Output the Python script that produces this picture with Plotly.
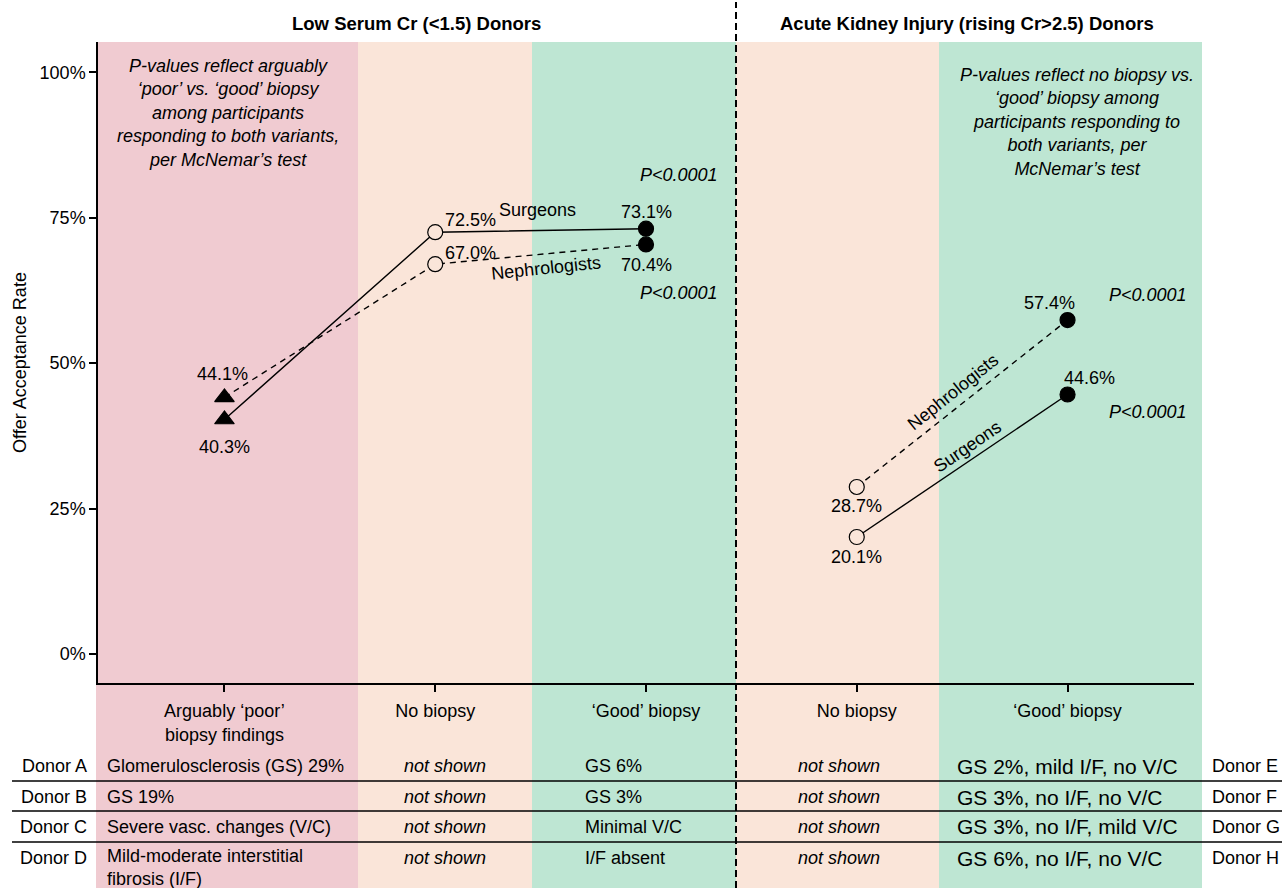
import plotly.graph_objects as go

# ---- data -------------------------------------------------------------
x_pos = [1, 2, 3, 4, 5]
tick_labels = [
    "Arguably ‘poor’<br>biopsy findings",
    "No biopsy",
    "‘Good’ biopsy",
    "No biopsy",
    "‘Good’ biopsy",
]
y_ticks = [0, 25, 50, 75, 100]

# Offer acceptance rate (%), low serum Cr donors: poor / no biopsy / good
surg_low = [40.3, 72.5, 73.1]
neph_low = [44.1, 67.0, 70.4]
# AKI donors: no biopsy / good biopsy
surg_aki = [20.1, 44.6]
neph_aki = [28.7, 57.4]

p_values = ["P<0.0001", "P<0.0001", "P<0.0001", "P<0.0001"]

donors_left = ["Donor A", "Donor B", "Donor C", "Donor D"]
poor_findings = [
    "Glomerulosclerosis (GS) 29%",
    "GS 19%",
    "Severe vasc. changes (V/C)",
    "Mild-moderate interstitial<br>fibrosis (I/F)",
]
good_low = ["GS 6%", "GS 3%", "Minimal V/C", "I/F absent"]
good_aki = [
    "GS 2%, mild I/F, no V/C",
    "GS 3%, no I/F, no V/C",
    "GS 3%, no I/F, mild V/C",
    "GS 6%, no I/F, no V/C",
]
donors_right = ["Donor E", "Donor F", "Donor G", "Donor H"]

# ---- styling ----------------------------------------------------------
FONT = "Liberation Sans, Arial, Helvetica, sans-serif"
PINK = "#F0CBD1"
PEACH = "#FAE5D9"
GREEN = "#BEE6D3"

W, H = 1282, 888
L, R, T, B = 98, 1194, 42, 683          # plot area in pixels


def px(xp):
    return (xp - L) / (R - L)


def py(yp):
    return (B - yp) / (B - T)


fig = go.Figure()

sym_low = ["triangle-up", "circle", "circle"]
col_low = ["black", PEACH, "black"]
size_low = [17, 15, 15]
sym_aki = ["circle", "circle"]
col_aki = [PEACH, "black"]
size_aki = [15, 15]


def series(xs, ys, dash, syms, cols, sizes):
    return go.Scatter(
        x=xs, y=ys, mode="lines+markers",
        line=dict(color="black", width=1.4, dash=dash),
        marker=dict(symbol=syms, color=cols, size=sizes, opacity=1,
                    line=dict(color="black", width=1.2)),
    )


fig.add_trace(series(x_pos[:3], surg_low, "solid", sym_low, col_low, size_low))
fig.add_trace(series(x_pos[:3], neph_low, "6px,5px", sym_low, col_low, size_low))
fig.add_trace(series(x_pos[3:], surg_aki, "solid", sym_aki, col_aki, size_aki))
fig.add_trace(series(x_pos[3:], neph_aki, "6px,5px", sym_aki, col_aki, size_aki))

annotations = []
base = dict(showarrow=False, xanchor="center", yanchor="middle",
            font=dict(family=FONT, size=18, color="black"))


def note(text, x, y, xref="paper", yref="paper", **kw):
    d = dict(base)
    d.update(text=text, x=x, y=y, xref=xref, yref=yref)
    d.update(kw)
    annotations.append(d)


# value labels next to each point
low_offsets_s = [(0, -27, "center"), (8, 12, "left"), (0, 17, "center")]
low_offsets_n = [(-2, 23, "center"), (8, 11, "left"), (0, -21, "center")]
for xv, v, (dx, dy, anc) in zip(x_pos[:3], surg_low, low_offsets_s):
    note(f"{v:.1f}%", xv, v, "x", "y", xshift=dx, yshift=dy, xanchor=anc)
for xv, v, (dx, dy, anc) in zip(x_pos[:3], neph_low, low_offsets_n):
    note(f"{v:.1f}%", xv, v, "x", "y", xshift=dx, yshift=dy, xanchor=anc)

aki_offsets_s = [(0, -20), (22, 16)]
aki_offsets_n = [(0, -19), (-18, 17)]
for xv, v, (dx, dy) in zip(x_pos[3:], surg_aki, aki_offsets_s):
    note(f"{v:.1f}%", xv, v, "x", "y", xshift=dx, yshift=dy)
for xv, v, (dx, dy) in zip(x_pos[3:], neph_aki, aki_offsets_n):
    note(f"{v:.1f}%", xv, v, "x", "y", xshift=dx, yshift=dy)

# series labels
note("Surgeons", px(537), py(210))
note("Nephrologists", px(546), py(268), textangle=-6)
note("Nephrologists", px(953), py(392), textangle=-38.7)
note("Surgeons", px(967), py(447), textangle=-34.3)

# p-values
for text, (xp, yp) in zip(p_values, [(679, 175), (679, 293), (1148, 295), (1148, 412)]):
    note(f"<i>{text}</i>", px(xp), py(yp))

# explanatory notes
note("<i>P-values reflect arguably<br>‘poor’ vs. ‘good’ biopsy<br>among participants<br>"
     "responding to both variants,<br>per McNemar’s test</i>",
     px(228), py(54), yanchor="top")
note("<i>P-values reflect no biopsy vs.<br>‘good’ biopsy among<br>participants responding to<br>"
     "both variants, per<br>McNemar’s test</i>",
     px(1077), py(63), yanchor="top")

# group headers
hdr = dict(family=FONT, size=18.5, color="black")
note("<b>Low Serum Cr (<1.5) Donors</b>", px(416), py(24), font=hdr)
note("<b>Acute Kidney Injury (rising Cr>2.5) Donors</b>", px(967), py(24), font=hdr)

# donor table
row_y = [766, 797, 827, 858]
for i, yp in enumerate(row_y):
    note(donors_left[i], px(89), py(yp), xanchor="right")
    if "<br>" in poor_findings[i]:
        note(poor_findings[i], px(105), py(yp - 14), xanchor="left",
             yanchor="top", align="left")
    else:
        note(poor_findings[i], px(105), py(yp), xanchor="left")
    note("<i>not shown</i>", px(445), py(yp))
    note(good_low[i], px(583), py(yp), xanchor="left")
    note("<i>not shown</i>", px(839), py(yp))
    note(good_aki[i], px(955), py(yp), xanchor="left",
         font=dict(family=FONT, size=21, color="black"))
    note(donors_right[i], px(1210), py(yp), xanchor="left")

# ---- shapes -----------------------------------------------------------
shapes = []
bands = [(96, 358, PINK), (358, 532, PEACH), (532, 736, GREEN),
         (736, 939, PEACH), (939, 1202, GREEN)]
for x0, x1, c in bands:
    shapes.append(dict(type="rect", xref="paper", yref="paper",
                       x0=px(x0), x1=px(x1), y0=py(888), y1=py(42),
                       fillcolor=c, line=dict(width=0), layer="below"))
for yp in [781, 811, 842]:
    shapes.append(dict(type="line", xref="paper", yref="paper",
                       x0=px(12), x1=px(1282), y0=py(yp), y1=py(yp),
                       line=dict(color="black", width=1.3), layer="above"))
shapes.append(dict(type="line", xref="paper", yref="paper",
                   x0=px(736), x1=px(736), y0=py(888), y1=py(2),
                   line=dict(color="black", width=2, dash="7px,4px"), layer="above"))

fig.update_layout(
    width=W, height=H,
    margin=dict(l=L, r=W - R, t=T, b=H - B),
    paper_bgcolor="white", plot_bgcolor="rgba(0,0,0,0)",
    showlegend=False,
    font=dict(family=FONT, size=18, color="black"),
    annotations=annotations,
    shapes=shapes,
)
fig.update_xaxes(
    range=[0.4, 5.6], tickmode="array", tickvals=x_pos, ticktext=tick_labels,
    showline=True, linecolor="black", linewidth=1.5, mirror=False,
    ticks="outside", ticklen=7, tickwidth=1.5, tickcolor="black",
    ticklabelstandoff=4,
    showgrid=False, zeroline=False, fixedrange=True,
    tickfont=dict(family=FONT, size=18),
)
fig.update_yaxes(
    range=[-5, 105.2], tickmode="array", tickvals=y_ticks,
    ticktext=[f"{v}%" for v in y_ticks],
    showline=True, linecolor="black", linewidth=1.5,
    ticks="outside", ticklen=7, tickwidth=1.5, tickcolor="black",
    showgrid=False, zeroline=False,
    title=dict(text="Offer Acceptance Rate", standoff=8,
               font=dict(family=FONT, size=18)),
    tickfont=dict(family=FONT, size=18),
)

fig.write_html("out.html")
